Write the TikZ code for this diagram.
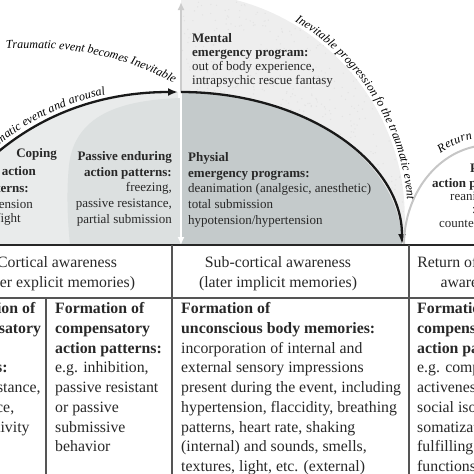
\documentclass[tikz,border=0pt]{standalone}
\usepackage{fontspec}
\setmainfont{Liberation Serif}
\usetikzlibrary{arrows.meta, decorations.text}

\definecolor{copinglight}{RGB}{233,235,235}
\definecolor{domelight}{RGB}{220,224,224}
\definecolor{domedark}{RGB}{196,202,203}
\definecolor{halogrey}{RGB}{238,238,238}
\definecolor{rulegrey}{RGB}{85,85,85}
\definecolor{inkgrey}{RGB}{40,40,40}

\tikzset{
  toptext/.style={font=\fontsize{13}{15.8}\selectfont, inner sep=0pt, text=inkgrey},
  celltext/.style={font=\fontsize{15.8}{19.7}\selectfont, inner sep=0pt, text=inkgrey},
  flowarrow/.style={line width=2.3pt, draw=black!90, -{Latex[length=10pt, width=8pt]}},
  curvetext/.style={decorate, decoration={text along path,
      text={|\itshape\fontsize{12}{14}\selectfont|#1}}},
  tablerule/.style={draw=rulegrey, line width=1.1pt},
}

\begin{document}
\begin{tikzpicture}[x=1pt, y=-1pt]
  \useasboundingbox (0,0) rectangle (474,474);
  \clip (0,0) rectangle (474,474);
  % anchor points of the curves
  \coordinate (peak) at (181,92);
  \coordinate (drop) at (402,244);
  \coordinate (base) at (181,245);
  % halo round the emergency dome
  \fill[halogrey] (base) -- (181,-7) .. controls (312,-7) and (420,110) .. (403,245) -- cycle;
  \begin{scope}
    \clip (base) -- (181,-7) .. controls (312,-7) and (420,110) .. (403,245) -- cycle;
    \pgfmathsetseed{7}
    \foreach \k in {1,...,900}
      \fill[gray!22] ({181+240*rnd},{-7+252*rnd}) circle (0.7);
  \end{scope}
  % coping area under the rising arc
  \fill[copinglight] (-40,190) .. controls (25,112) and (105,92) .. (178,92) -- (base) -- (-40,245) -- cycle;
  % light dome: passive enduring
  \fill[domelight] (base) -- (181,98) .. controls (120,100) and (75,115) .. (69,165)
    .. controls (66,195) and (68,225) .. (70,245) -- cycle;
  % dark dome: physical emergency
  \fill[domedark] (base) -- (peak) .. controls (303,92) and (402,160) .. (402,245) -- cycle;
  % vertical axis
  \draw[gray!40, line width=2.5pt, -{Latex[length=8pt, width=7pt]}] (peak) -- (181,2);
  \draw[white, line width=2.5pt, -{Latex[length=8pt, width=7pt]}] (peak) -- (base);
  % arcs
  \draw[flowarrow] (-40,190) .. controls (25,112) and (105,92) .. (178,92);
  \draw[flowarrow] (peak) .. controls (303,92) and (402,160) .. (drop);
  \draw[gray!45, line width=2pt] (404,245) .. controls (404,190) and (442.5,145) .. (490,145);
  % labels along the arcs
  \path[curvetext={Traumatic event becomes Inevitable}] (6,49) .. controls (60,46) and (120,52) .. (178,86);
  \path[curvetext={Traumatic event and arousal}, decoration={raise=5pt, text align={right, right indent=72pt}}]
    (-40,190) .. controls (25,112) and (105,92) .. (178,92);
  \path[curvetext={Inevitable progression fo the traumatic event}, decoration={raise=3pt, text align={left indent=118pt}}]
    (181,-7) .. controls (312,-7) and (420,110) .. (403,245);
  \path[curvetext={Return}, decoration={raise=8pt, text align={left indent=98pt}}]
    (404,245) .. controls (404,190) and (442.5,145) .. (490,145);

  % texts in the upper part
  \foreach \txt/\xr/\yb [count=\i] in {{\textbf{Coping}}/57/157, {\textbf{action}}/36/175,
      {\textbf{patterns:}}/29/192, hypertension/33/208, fight/21/222}
    \node[toptext, anchor=base east] (coping\i) at (\xr,\yb) {\txt};
  \node[toptext, anchor=north east, align=right] (passive) at (172,151)
    {\textbf{Passive enduring}\\\textbf{action patterns:}\\freezing,\\passive resistance,\\partial submission};
  \node[toptext, anchor=north west, align=left, font=\fontsize{13}{14.2}\selectfont] (mental) at (192,33)
    {\textbf{Mental}\\\textbf{emergency program:}\\out of body experience,\\intrapsychic rescue fantasy};
  \node[toptext, anchor=north west, align=left] (physial) at (188,152)
    {\textbf{Physial}\\\textbf{emergency programs:}\\deanimation (analgesic, anesthetic)\\total submission\\hypotension/hypertension};
  \foreach \txt/\xl/\yb [count=\i] in {{\textbf{Proactive}}/470/172, {\textbf{action patterns:}}/432/187,
      reanimation/450/200, :/472/213, counteraction/439/227}
    \node[toptext, anchor=base west] (reactive\i) at (\xl,\yb) {\txt};

  % table
  \draw[line width=2.4pt, black!85] (0,245) -- (474,245);
  \draw[tablerule] (0,298) -- (474,298);
  \draw[tablerule] (172,245) -- (172,474);
  \draw[tablerule] (409,245) -- (409,474);
  \draw[tablerule] (46,298) -- (46,474);
  \node[celltext, anchor=north, align=center] (cortical) at (57,256.5)
    {Cortical awareness\\(later explicit memories)};
  \node[celltext, anchor=north, align=center] (subcortical) at (278,256.5)
    {Sub-cortical awareness\\(later implicit memories)};
  \node[celltext, anchor=north, align=center] (returncortical) at (473,256.5)
    {Return of cortical\\awareness};
  \node[celltext, anchor=north west, align=left] (compactive) at (-54,302.5)
    {\textbf{Formation of}\\\textbf{compensatory}\\\textbf{action}\\\textbf{patterns:}\\e.g. resistance,\\avoidance,\\hyperactivity};
  \node[celltext, anchor=north west, align=left] (comppassive) at (55,302.5)
    {\textbf{Formation of}\\\textbf{compensatory}\\\textbf{action patterns:}\\e.g. inhibition,\\passive resistant\\or passive\\submissive\\behavior};
  \node[celltext, anchor=north west, align=left] (bodymem) at (181,302.5)
    {\textbf{Formation of}\\\textbf{unconscious body memories:}\\incorporation of internal and\\external sensory impressions\\present during the event, including\\hypertension, flaccidity, breathing\\patterns, heart rate, shaking\\(internal) and sounds, smells,\\textures, light, etc. (external)};
  \node[celltext, anchor=north west, align=left] (compreturn) at (417,302.5)
    {\textbf{Formation of}\\\textbf{compensatory}\\\textbf{action patterns:}\\e.g. compulsive\\activeness,\\social isolation,\\somatization,\\fulfilling\\functions};
\end{tikzpicture}
\end{document}
